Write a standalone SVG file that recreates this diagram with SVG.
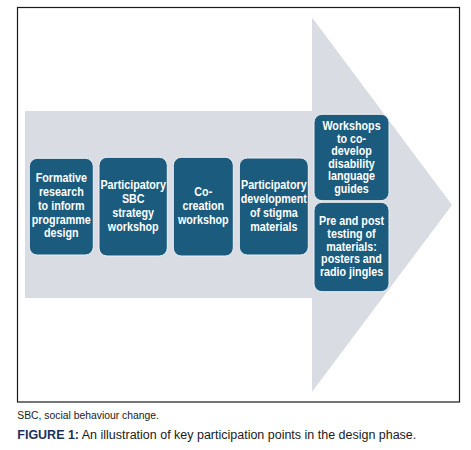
<svg xmlns="http://www.w3.org/2000/svg" width="471" height="450" viewBox="0 0 471 450">
<style>
.box{fill:#1a5b7e;stroke:#eef0f3;stroke-width:1}
.lbl{font-family:"Liberation Sans",Arial,sans-serif;font-weight:bold;font-size:12.5px;fill:#ffffff;text-anchor:middle}
.cap{font-family:"Liberation Sans",Arial,sans-serif;fill:#1a1a1a}
</style>
<rect x="17.5" y="7.5" width="442" height="394.5" fill="#ffffff" stroke="#1a1a1a" stroke-width="1.2"/>
<g id="arrow">
<polygon points="25,111 312,111 312,17.5 452,205 312,392 312,298 25,298" fill="#d9dce3"/>
</g>
<g id="n1">
<rect class="box" x="29.3" y="158.3" width="64" height="96.7" rx="8"/>
<text class="lbl" transform="translate(61.3,0) scale(0.86,1)"><tspan x="0" y="182.5">Formative</tspan><tspan x="0" y="196.3">research</tspan><tspan x="0" y="210">to inform</tspan><tspan x="0" y="223.8">programme</tspan><tspan x="0" y="237.5">design</tspan></text>
</g>
<g id="n2">
<rect class="box" x="99" y="157.3" width="68.3" height="98.7" rx="8"/>
<text class="lbl" transform="translate(133.2,0) scale(0.86,1)"><tspan x="0" y="189.5">Participatory</tspan><tspan x="0" y="203.5">SBC</tspan><tspan x="0" y="217.5">strategy</tspan><tspan x="0" y="231.5">workshop</tspan></text>
</g>
<g id="n3">
<rect class="box" x="173.3" y="157.3" width="60" height="98.7" rx="8"/>
<text class="lbl" transform="translate(203.3,0) scale(0.86,1)"><tspan x="0" y="196.5">Co-</tspan><tspan x="0" y="210.5">creation</tspan><tspan x="0" y="224.5">workshop</tspan></text>
</g>
<g id="n4">
<rect class="box" x="239.3" y="158" width="69" height="97" rx="8"/>
<text class="lbl" transform="translate(273.8,0) scale(0.86,1)"><tspan x="0" y="189.5">Participatory</tspan><tspan x="0" y="203.5">development</tspan><tspan x="0" y="217.5">of stigma</tspan><tspan x="0" y="231.5">materials</tspan></text>
</g>
<g id="n5">
<rect class="box" x="314" y="114.3" width="75" height="86.4" rx="8"/>
<text class="lbl" transform="translate(351.5,0) scale(0.86,1)"><tspan x="0" y="130.5">Workshops</tspan><tspan x="0" y="143">to co-</tspan><tspan x="0" y="155.5">develop</tspan><tspan x="0" y="168">disability</tspan><tspan x="0" y="180.5">language</tspan><tspan x="0" y="193">guides</tspan></text>
</g>
<g id="n6">
<rect class="box" x="314" y="202.3" width="75" height="89.4" rx="8"/>
<text class="lbl" transform="translate(351.5,0) scale(0.86,1)"><tspan x="0" y="225.5">Pre and post</tspan><tspan x="0" y="238.5">testing of</tspan><tspan x="0" y="251">materials:</tspan><tspan x="0" y="263.5">posters and</tspan><tspan x="0" y="276">radio jingles</tspan></text>
</g>
<g id="connectors"></g>
<text class="cap" x="17.3" y="418.5" font-size="10" textLength="141.7" lengthAdjust="spacingAndGlyphs">SBC, social behaviour change.</text>
<text class="cap" x="17.3" y="438.5" font-size="12.5" textLength="399" lengthAdjust="spacingAndGlyphs"><tspan font-weight="bold" fill="#1b2f5a">FIGURE 1:</tspan> An illustration of key participation points in the design phase.</text>
</svg>
